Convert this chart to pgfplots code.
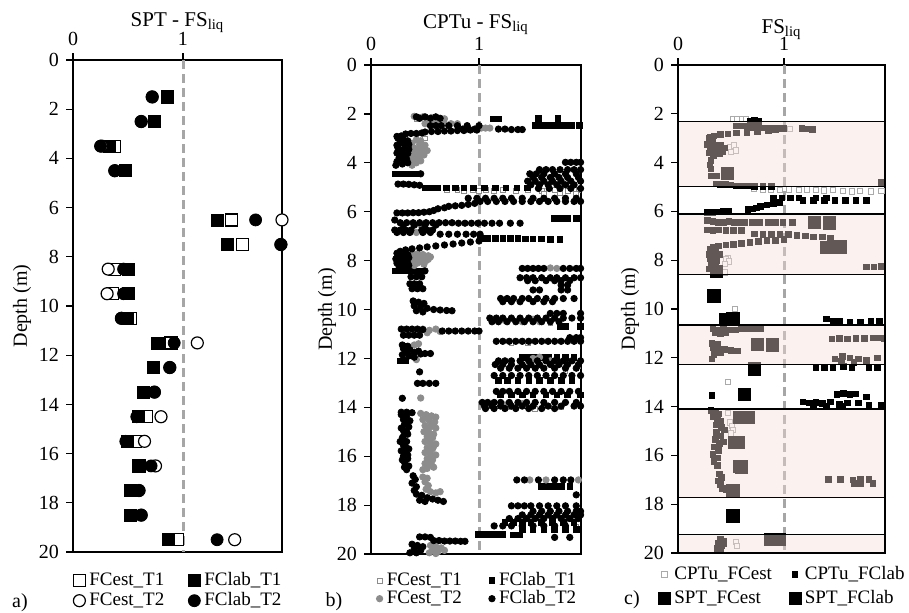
\documentclass[border=0pt]{standalone}
\usepackage{fontspec}
\setmainfont{Liberation Serif}
\usepackage{pgfplots}
\pgfplotsset{compat=1.18}
\definecolor{dashgray}{RGB}{166,166,166}
\definecolor{estgray}{RGB}{140,140,140}
\definecolor{ltgray}{RGB}{170,170,170}
\definecolor{band}{RGB}{245,223,217}

\pgfplotsset{
  fsl/.style={
    scale only axis, anchor=north west,
    xmin=0, ymin=0, ymax=20, y dir=reverse,
    xtick={0,1}, ytick={0,2,...,20},
    xtick pos=right, xticklabel pos=right, ytick pos=left,
    tick align=outside, major tick length=3.5pt,
    tick style={black, line width=0.6pt},
    axis line style={line width=0.7pt},
    font=\fontsize{10}{12}\selectfont,
    /pgf/number format/assume math mode=true,
    ylabel={Depth (m)},
    legend style={at={(0,0)}, anchor=north west, yshift=-6pt, xshift=-3pt,
      draw=none, fill=none, legend columns=2,
      font=\fontsize{9.5}{10}\selectfont,
      /tikz/every even column/.append style={column sep=10pt}},
    legend cell align=left,
    legend image code/.code={\draw[mark repeat=2,mark phase=2] plot coordinates {(0pt,0pt)(3pt,0pt)(6pt,0pt)};},
  },
  dashone/.style={forget plot, color=dashgray, line width=1.5pt, dash pattern=on 4.5pt off 2.5pt},
  bigopen/.style={only marks, mark size=3pt, mark options={draw=black, fill=white, line width=0.6pt}},
  bigfill/.style={only marks, mark size=3pt, mark options={draw=black, fill=black}},
  cband/.style={forget plot, fill=band, fill opacity=0.4, draw=black, draw opacity=1, line width=0.7pt},
}

\begin{document}
\begin{tikzpicture}
\useasboundingbox (0,0) rectangle (454.5pt,-306pt);

% ---------------- a) SPT
\begin{axis}[fsl, at={(36.5pt,-30pt)}, width=104.5pt, height=246pt, xmax=1.9,
  ylabel style={at={(0,0.5)}, anchor=center, yshift=25.5pt},
  legend style={row sep=-2pt}]
\addplot[dashone] coordinates {(1,0) (1,20)};
\addplot[bigopen, mark=square*] coordinates {
(0.86,1.5)(0.74,2.5)(0.38,3.5)(0.48,4.5)(1.44,6.5)(1.54,7.5)(0.38,8.5)(0.36,9.5)(0.52,10.5)
(0.89,11.5)(0.73,12.5)(0.64,13.5)(0.67,14.5)(0.57,15.5)(0.60,16.5)(0.52,17.5)(0.52,18.5)(0.95,19.5)};
\addplot[bigfill, mark=square*] coordinates {
(0.86,1.5)(0.74,2.5)(0.33,3.5)(0.48,4.5)(1.31,6.5)(1.40,7.5)(0.50,8.5)(0.50,9.5)(0.49,10.5)
(0.77,11.5)(0.73,12.5)(0.64,13.5)(0.59,14.5)(0.49,15.5)(0.59,16.5)(0.52,17.5)(0.52,18.5)(0.87,19.5)};
\addplot[bigopen, mark=*] coordinates {
(0.72,1.5)(0.62,2.5)(0.26,3.5)(0.38,4.5)(1.90,6.5)(1.89,7.5)(0.32,8.5)(0.31,9.5)(0.44,10.5)
(1.13,11.5)(0.88,12.5)(0.74,13.5)(0.80,14.5)(0.65,15.5)(0.75,16.5)(0.60,17.5)(0.62,18.5)(1.47,19.5)};
\addplot[bigfill, mark=*] coordinates {
(0.72,1.5)(0.62,2.5)(0.25,3.5)(0.38,4.5)(1.66,6.5)(1.89,7.5)(0.46,8.5)(0.46,9.5)(0.44,10.5)
(0.92,11.5)(0.88,12.5)(0.74,13.5)(0.58,14.5)(0.48,15.5)(0.71,16.5)(0.60,17.5)(0.62,18.5)(1.31,19.5)};
\legend{FCest\_T1, FClab\_T1, FCest\_T2, FClab\_T2}
\end{axis}

% ---------------- b) CPTu
\begin{axis}[fsl, at={(185.5pt,-32.5pt)}, width=105pt, height=244.5pt, xmax=1.944,
  ylabel style={at={(0,0.5)}, anchor=center, yshift=22pt},
  legend style={xshift=2.5pt, yshift=1pt, row sep=-3pt, /tikz/every even column/.append style={column sep=11.5pt}}]
\addplot[dashone] coordinates {(1,0) (1,20)};
% FCest_T1
\addplot[only marks, mark=square*, mark size=1.2pt, mark options={draw=estgray, fill=white, line width=0.4pt}] coordinates {
(0.42,2.2)(0.46,2.95)(0.50,3.0)
(0.70,5.12)(0.80,5.12)(0.86,5.15)(0.94,5.12)(1.00,5.15)(1.06,5.12)(1.14,5.15)(1.22,5.12)(1.34,5.15)(1.45,5.12)(1.58,5.15)(1.70,5.12)(1.82,5.15)(1.92,5.12)
(1.60,5.25)(1.75,5.25)(1.90,5.25)(1.66,10.55)(1.30,11.35)(1.45,11.35)(1.80,12.5)(1.92,12.3)
(1.28,14.0)(1.52,14.05)(1.76,14.0)(1.80,18.6)(1.90,18.9)};
% FClab_T1
\addplot[only marks, mark=square*, mark size=1.4pt, black] coordinates {
(1.13,2.2)(1.18,2.2)(1.55,2.18)(1.73,2.18)
(1.52,2.46)(1.57,2.46)(1.62,2.46)(1.68,2.46)(1.74,2.46)(1.80,2.46)(1.86,2.46)(1.93,2.46)
(0.22,4.45)(0.27,4.45)(0.32,4.45)(0.37,4.45)(0.42,4.45)
(0.50,5.02)(0.56,5.02)(0.62,5.02)(0.70,5.02)(0.78,5.02)(0.86,5.02)(0.95,5.02)(1.05,5.02)(1.15,5.02)(1.25,5.02)(1.35,5.02)(1.45,5.02)
(1.70,6.28)(1.76,6.28)(1.82,6.28)(1.90,6.28)
(1.01,7.08)(1.08,7.08)(1.15,7.08)(1.22,7.1)(1.29,7.1)(1.36,7.1)(1.43,7.12)(1.50,7.12)(1.58,7.12)(1.66,7.14)(1.75,7.14)
(0.22,8.42)(0.27,8.42)(0.32,8.42)(0.37,8.42)(0.42,8.42)(0.47,8.42)
(1.75,10.68)(1.80,10.68)(1.94,10.68)
(1.40,11.95)(1.46,11.95)(1.52,11.95)(1.58,11.95)(1.64,11.95)(1.72,11.95)(1.80,11.95)(1.88,11.95)
(0.27,12.1)(0.32,12.1)
(1.18,12.9)(1.26,12.9)(1.36,12.9)(1.46,12.9)(1.56,12.9)(1.66,12.9)(1.76,12.9)(1.86,12.9)
(1.20,13.5)(1.30,13.5)(1.40,13.5)(1.50,13.5)(1.62,13.5)(1.72,13.5)(1.82,13.5)(1.94,13.5)
(1.58,17.24)(1.64,17.24)(1.70,17.24)(1.76,17.24)(1.84,17.24)
(1.24,18.7)(1.32,18.7)(1.40,18.7)(1.48,18.7)(1.58,18.7)(1.68,18.7)(1.78,18.7)(1.88,18.7)
(1.40,19.0)(1.50,19.0)(1.60,19.0)(1.70,19.0)(1.80,19.0)(1.90,19.0)
(0.99,19.2)(1.04,19.2)(1.09,19.2)(1.14,19.2)(1.19,19.2)(1.22,19.2)(1.32,19.22)(1.38,19.22)};
% FCest_T2
\addplot[only marks, mark=*, mark size=1.6pt, estgray] coordinates {
(0.40,2.1)(0.44,2.15)(0.48,2.12)(0.52,2.18)(0.56,2.15)(0.60,2.2)(0.64,2.22)(0.68,2.2)
(0.50,2.4)(0.56,2.4)(0.62,2.4)(0.68,2.4)(0.74,2.4)(0.80,2.4)(1.02,2.58)(1.06,2.58)(1.10,2.58)
(0.42,3.05)(0.38,3.2)(0.45,3.25)(0.40,3.4)(0.48,3.4)(0.52,3.5)(0.42,3.55)(0.38,3.7)(0.45,3.75)(0.36,3.9)(0.42,4.0)(0.47,3.6)(0.38,4.1)
(0.46,3.1)(0.50,3.28)(0.44,3.45)(0.40,3.62)(0.49,3.68)(0.41,3.85)(0.46,3.92)
(0.42,6.85)(0.45,6.52)
(0.38,7.75)(0.43,7.72)(0.48,7.75)(0.53,7.8)(0.40,7.9)(0.46,7.95)(0.51,8.0)(0.38,8.05)(0.43,8.1)(0.49,8.15)(0.55,7.85)
(0.44,7.82)(0.50,7.9)(0.41,8.0)(0.47,8.05)(0.53,7.95)(0.40,8.2)
(1.66,8.3)(1.72,8.32)
(0.48,10.8)(0.54,10.85)(0.60,10.8)(0.64,10.9)(0.52,10.95)
(1.24,10.45)(1.40,10.5)(1.50,10.4)(1.56,10.5)
(0.40,11.45)(0.44,11.4)(0.42,12.05)(1.50,12.0)(1.56,11.95)(1.66,12.1)
(0.46,13.62)(1.24,13.9)(1.40,13.85)(1.60,13.95)
(0.46,14.25)(0.51,14.3)(0.56,14.35)(0.60,14.4)(0.48,14.5)(0.54,14.55)(0.59,14.6)(0.50,14.75)(0.55,14.8)(0.60,14.85)
(0.49,15.0)(0.54,15.05)(0.52,15.2)(0.57,15.25)(0.50,15.4)(0.55,15.45)(0.60,15.5)(0.52,15.65)(0.57,15.7)(0.50,15.85)
(0.55,15.9)(0.60,15.95)(0.52,16.1)(0.57,16.15)(0.50,16.3)(0.56,16.35)(0.52,16.5)(0.48,16.55)
(0.53,14.4)(0.57,14.68)(0.52,14.9)(0.58,15.1)(0.54,15.35)(0.58,15.6)(0.53,15.78)(0.57,16.02)(0.54,16.25)(0.58,16.45)
(0.48,16.85)(0.52,16.9)(0.50,17.05)(0.53,17.2)(0.51,17.35)(0.55,17.45)(0.60,17.5)(0.64,17.45)
(0.55,19.65)(0.60,19.7)(0.65,19.75)(0.57,19.85)(0.62,19.9)(0.68,19.85)(0.54,19.95)(0.60,19.98)
(1.47,16.97)(1.62,16.97)(1.92,16.97)};
% FClab_T2
\addplot[only marks, mark=*, mark size=1.6pt, black] coordinates {
(0.42,2.12)(0.50,2.12)(0.60,2.12)(0.45,2.18)(0.55,2.18)(0.64,2.18)
(0.55,2.48)(0.60,2.48)(0.65,2.48)(0.72,2.48)(0.80,2.48)(0.89,2.48)(1.00,2.48)
(0.85,2.62)(0.90,2.62)(0.96,2.62)(1.18,2.62)(1.24,2.62)(1.30,2.64)(1.36,2.64)(1.40,2.64)
(0.50,2.74)(0.56,2.72)(0.62,2.72)(0.68,2.7)(0.74,2.7)(0.80,2.68)(0.86,2.68)(0.92,2.66)(0.98,2.66)
(0.32,2.82)(0.37,2.8)(0.42,2.8)(0.47,2.78)(0.24,2.92)(0.28,2.9)
(0.25,3.0)(0.30,3.05)(0.34,3.1)(0.27,3.2)(0.32,3.3)(0.25,3.4)(0.29,3.5)(0.35,3.45)(0.24,3.6)(0.30,3.7)
(0.26,3.8)(0.33,3.85)(0.24,3.95)(0.29,4.05)(0.34,4.0)(0.23,4.1)
(0.29,3.15)(0.24,3.28)(0.31,3.4)(0.27,3.55)(0.34,3.62)(0.27,3.72)(0.31,3.92)(0.35,3.25)
(0.46,4.45)(0.25,4.87)(0.30,4.87)(0.35,4.88)(0.40,4.9)(0.45,4.92)
(1.80,3.98)(1.85,3.98)(1.90,3.98)(1.94,3.98)
(1.56,4.28)(1.62,4.28)(1.68,4.28)(1.75,4.28)(1.82,4.28)(1.88,4.28)(1.94,4.28)
(1.47,4.45)(1.53,4.45)(1.60,4.45)(1.70,4.45)(1.80,4.45)(1.90,4.45)
(1.50,4.6)(1.58,4.6)(1.66,4.6)(1.74,4.6)(1.82,4.6)(1.92,4.6)
(1.45,4.75)(1.52,4.75)(1.60,4.75)(1.68,4.75)(1.76,4.75)(1.85,4.75)(1.94,4.75)
(1.48,4.9)(1.56,4.9)(1.64,4.9)(1.72,4.9)(1.80,4.9)(1.88,4.9)
(1.55,5.05)(1.65,5.05)(1.75,5.05)(1.85,5.05)(1.94,5.05)
(0.90,5.45)(0.98,5.45)(1.06,5.45)(1.14,5.45)(1.22,5.45)(1.30,5.45)(1.40,5.45)(1.50,5.45)(1.60,5.45)(1.70,5.45)(1.80,5.45)(1.90,5.45)
(1.01,5.58)(1.08,5.58)(1.16,5.58)(1.24,5.58)(1.32,5.58)(1.40,5.58)(1.48,5.58)(1.56,5.58)(1.64,5.58)(1.72,5.58)(1.80,5.58)(1.88,5.58)(1.94,5.58)
(0.72,5.78)(0.78,5.76)(0.84,5.74)(0.90,5.7)(0.96,5.66)(0.62,5.88)(0.68,5.84)
(0.24,6.05)(0.29,6.05)(0.34,6.05)(0.39,6.04)(0.44,6.04)(0.49,6.02)(0.54,6.0)(0.58,5.95)
(0.22,6.34)
(0.27,6.45)(0.33,6.45)(0.39,6.45)(0.45,6.45)(0.51,6.45)(0.57,6.45)(0.63,6.45)(0.69,6.45)(0.75,6.45)
(0.81,6.47)(0.87,6.47)(0.93,6.47)(0.99,6.47)(1.05,6.47)(1.12,6.47)(1.19,6.47)(1.29,6.47)(1.38,6.47)
(0.30,6.55)(0.40,6.55)(0.50,6.55)(0.60,6.55)
(0.22,6.75)(0.27,6.75)(0.32,6.75)(0.37,6.75)(0.47,6.75)(0.52,6.75)(0.57,6.75)
(0.24,6.85)(0.30,6.85)(0.36,6.85)(0.48,6.85)(0.55,6.85)
(0.64,6.92)(0.72,6.92)(0.80,6.92)(0.88,6.92)(0.95,6.92)(1.01,6.92)
(1.00,7.2)(0.92,7.24)(0.84,7.28)(0.76,7.32)(0.68,7.36)(0.60,7.4)(0.52,7.44)(0.45,7.48)(0.38,7.52)(0.32,7.56)(0.27,7.62)
(0.24,7.7)(0.29,7.7)(0.34,7.75)(0.25,7.85)(0.31,7.9)(0.26,8.0)(0.33,8.0)(0.24,8.1)(0.29,8.15)(0.35,8.2)(0.26,8.25)
(0.28,7.8)(0.35,7.88)(0.23,7.93)(0.29,8.05)(0.34,8.1)(0.31,8.25)
(0.50,8.42)(0.37,8.66)(0.42,8.66)(0.47,8.66)(0.36,8.95)(0.40,8.95)(0.45,8.95)(0.38,9.15)(0.43,9.15)(0.48,9.15)
(0.39,9.65)(0.44,9.7)(0.49,9.75)(0.40,9.85)(0.46,9.9)(0.52,9.95)(0.58,10.0)(0.64,10.02)(0.70,10.04)(0.75,10.05)(0.42,10.05)(0.48,10.1)
(0.28,10.8)(0.33,10.8)(0.38,10.8)(0.43,10.8)(0.48,10.82)
(0.66,10.88)(0.72,10.88)(0.78,10.88)(0.84,10.88)(0.90,10.88)(0.96,10.88)(1.00,10.88)
(0.30,11.05)(0.35,11.05)(0.40,11.05)(0.45,11.05)
(0.29,11.45)(0.34,11.5)(0.30,11.6)(0.36,11.65)(0.44,11.7)(0.50,11.8)(0.55,11.8)(0.29,11.85)(0.35,11.9)(0.40,11.95)(0.30,12.05)
(0.33,11.75)(0.40,11.75)(0.46,11.82)(0.32,11.52)
(0.45,12.55)(0.43,13.02)(0.48,13.02)(0.54,13.02)(0.60,13.02)(0.29,13.63)
(0.28,14.2)(0.33,14.2)(0.38,14.22)
(1.40,8.32)(1.45,8.32)(1.50,8.32)(1.55,8.32)(1.60,8.32)(1.78,8.32)(1.84,8.32)(1.90,8.32)(1.94,8.32)
(1.38,8.7)(1.44,8.7)(1.50,8.7)(1.58,8.7)(1.66,8.7)(1.72,8.7)(1.80,8.7)(1.88,8.7)(1.94,8.7)
(1.45,8.82)(1.52,8.82)(1.62,8.82)(1.70,8.82)(1.76,8.82)(1.84,8.82)
(1.76,9.0)(1.82,9.0)(1.50,9.2)(1.56,9.2)(1.76,9.2)(1.82,9.2)
(1.20,9.55)(1.26,9.55)(1.32,9.55)(1.40,9.55)(1.46,9.55)(1.54,9.55)(1.62,9.55)(1.70,9.55)(1.78,9.55)(1.88,9.55)
(1.22,9.68)(1.30,9.68)(1.38,9.68)(1.50,9.68)(1.60,9.68)(1.68,9.68)
(1.66,10.16)(1.72,10.16)(1.78,10.16)(1.94,10.16)
(1.10,10.35)(1.16,10.35)(1.22,10.35)(1.30,10.35)(1.38,10.35)(1.46,10.35)(1.54,10.35)(1.62,10.35)(1.70,10.35)(1.78,10.35)(1.86,10.35)(1.94,10.35)
(1.12,10.5)(1.18,10.5)(1.26,10.5)(1.34,10.5)(1.42,10.5)(1.50,10.5)(1.58,10.5)(1.66,10.5)(1.74,10.5)
(1.84,11.15)(1.90,11.15)(1.94,11.15)
(1.16,11.3)(1.22,11.3)(1.28,11.3)(1.34,11.3)(1.40,11.3)(1.46,11.3)(1.52,11.3)(1.58,11.3)(1.64,11.3)(1.70,11.3)(1.76,11.3)(1.82,11.3)(1.88,11.3)(1.94,11.3)
(1.18,12.1)(1.24,12.1)(1.30,12.1)(1.38,12.1)(1.46,12.1)(1.54,12.1)(1.62,12.1)(1.70,12.1)(1.78,12.1)(1.86,12.1)(1.94,12.1)
(1.15,12.25)(1.22,12.25)(1.30,12.25)(1.40,12.25)(1.48,12.25)(1.56,12.25)(1.66,12.25)(1.74,12.25)(1.82,12.25)(1.92,12.25)
(1.20,12.4)(1.28,12.4)(1.36,12.4)(1.44,12.4)(1.52,12.4)(1.60,12.4)(1.70,12.4)(1.80,12.4)(1.90,12.4)
(1.14,12.7)(1.22,12.7)(1.30,12.7)(1.38,12.7)(1.46,12.7)(1.54,12.7)(1.62,12.7)(1.70,12.7)(1.78,12.7)(1.86,12.7)(1.94,12.7)
(1.16,13.35)(1.22,13.35)(1.28,13.35)(1.36,13.35)(1.44,13.35)(1.52,13.35)(1.60,13.35)(1.68,13.35)(1.76,13.35)(1.84,13.35)(1.92,13.35)
(1.03,13.8)(1.08,13.8)(1.14,13.8)(1.20,13.8)(1.28,13.8)(1.36,13.8)(1.44,13.8)(1.52,13.8)(1.60,13.8)(1.70,13.8)(1.80,13.8)(1.90,13.8)
(1.05,13.95)(1.12,13.95)(1.20,13.95)(1.30,13.95)(1.40,13.95)(1.50,13.95)(1.64,13.95)(1.76,13.95)(1.88,13.95)(1.94,13.95)
(1.06,14.05)(1.14,14.05)(1.24,14.05)(1.34,14.05)(1.46,14.05)(1.58,14.05)(1.70,14.05)
(0.28,14.3)(0.33,14.35)(0.30,14.5)(0.36,14.55)(0.31,14.7)(0.35,14.8)(0.30,14.95)(0.34,15.1)(0.29,15.25)(0.33,15.4)
(0.30,15.55)(0.35,15.7)(0.32,15.85)(0.30,16.0)(0.34,16.1)(0.31,16.25)(0.35,16.4)(0.33,16.55)
(0.33,14.62)(0.28,14.85)(0.33,15.0)(0.30,15.18)(0.27,15.4)(0.32,15.62)(0.28,15.78)(0.34,15.95)(0.29,16.15)(0.31,16.45)
(0.39,16.8)(0.41,16.95)(0.38,17.1)(0.42,17.25)(0.40,17.4)
(0.42,17.55)(0.47,17.6)(0.52,17.7)(0.57,17.75)(0.62,17.8)(0.67,17.85)(0.45,17.8)(0.50,17.85)
(0.45,19.3)(0.50,19.3)(0.55,19.32)(0.58,19.45)(0.63,19.45)(0.68,19.47)(0.73,19.47)(0.78,19.47)(0.83,19.48)(0.87,19.48)
(0.38,19.6)(0.43,19.65)(0.48,19.7)(0.40,19.8)(0.46,19.85)(0.36,19.95)(0.42,19.95)
(1.35,16.97)(1.42,16.97)(1.55,16.97)(1.70,16.97)(1.78,16.97)(1.85,16.97)(1.90,17.58)
(1.30,18.03)(1.36,18.03)(1.42,18.03)(1.48,18.03)(1.56,18.03)(1.64,18.03)(1.72,18.03)(1.80,18.03)(1.90,18.03)
(1.50,18.25)(1.58,18.25)(1.66,18.25)(1.74,18.25)(1.82,18.25)(1.90,18.25)(1.94,18.25)
(1.40,18.4)(1.48,18.4)(1.56,18.4)(1.64,18.4)(1.72,18.4)(1.80,18.4)(1.88,18.4)(1.94,18.4)
(1.28,18.55)(1.36,18.55)(1.44,18.55)(1.52,18.55)(1.60,18.55)(1.68,18.55)(1.76,18.55)(1.84,18.55)(1.92,18.55)
(1.14,18.85)(1.22,18.85)(1.30,18.85)(1.40,18.85)(1.50,18.85)(1.60,18.85)(1.70,18.85)(1.80,18.85)
(1.70,19.32)(1.84,19.32)};
\legend{FCest\_T1, FClab\_T1, FCest\_T2, FClab\_T2}
\end{axis}

% ---------------- c) FS_liq combined
\begin{axis}[fsl, at={(339pt,-32.5pt)}, width=103.5pt, height=244pt, xmax=1.953,
  clip marker paths=true,
  ylabel style={at={(0,0.5)}, anchor=center, yshift=24pt},
  legend style={xshift=-10pt, yshift=3.5pt, /tikz/every even column/.append style={column sep=6.5pt}}]
\addplot[dashone] coordinates {(1,0) (1,20)};
% CPTu_FCest
\addplot[only marks, mark=square*, mark size=1.3pt, mark options={draw=ltgray, fill=white, line width=0.5pt}] coordinates {
(0.52,2.2)(0.56,2.2)(0.60,2.2)(0.64,2.2)(1.06,2.62)
(0.49,3.35)(0.53,3.3)(0.50,3.55)(0.55,3.5)
(0.72,5.08)(0.80,5.12)(0.88,5.1)(0.96,5.12)(1.05,5.1)(1.14,5.12)(1.22,5.1)(1.30,5.12)(1.38,5.14)(1.46,5.12)
(1.56,5.15)(1.64,5.18)(1.72,5.15)(1.82,5.18)(1.92,5.15)
(0.47,7.9)(0.45,7.95)(0.48,8.05)(0.44,8.15)(0.44,8.5)(0.54,10.0)(0.47,13.0)(0.47,14.25)
(0.49,14.65)(0.51,14.8)(0.52,14.95)(0.50,15.1)(0.55,19.55)(0.56,19.7)};
% CPTu_FClab
\addplot[only marks, mark=square*, mark size=1.4pt, black] coordinates {
(0.68,2.3)(0.72,2.28)(0.76,2.32)
(0.55,2.5)(0.60,2.5)(0.65,2.52)(0.70,2.55)(0.75,2.55)(0.80,2.58)(0.85,2.58)(0.90,2.6)(0.95,2.6)(1.00,2.6)
(1.17,2.6)(1.22,2.62)(1.27,2.63)
(0.92,2.65)(0.85,2.68)(0.75,2.72)(0.65,2.75)(0.55,2.78)(0.47,2.82)(0.40,2.85)(0.34,2.9)(0.30,2.95)
(0.29,3.0)(0.33,3.1)(0.28,3.25)(0.35,3.3)(0.40,3.3)(0.44,3.4)(0.30,3.45)(0.36,3.5)(0.42,3.55)(0.29,3.6)(0.34,3.7)
(0.31,3.9)(0.30,4.1)(0.31,4.25)(0.31,4.55)(0.36,4.55)
(0.36,4.88)(0.40,4.9)(0.45,4.9)(0.50,4.92)(0.55,4.95)(0.60,4.95)(0.66,4.96)(0.72,4.97)(0.80,4.97)(0.88,4.98)(1.92,4.8)
(0.90,5.45)(0.98,5.45)(1.06,5.45)(1.14,5.45)(1.30,5.45)(1.40,5.45)
(1.18,5.55)(1.28,5.55)(1.38,5.55)(1.48,5.55)(1.58,5.55)(1.68,5.55)(1.78,5.55)
(0.96,5.62)(0.90,5.68)(0.84,5.74)(0.78,5.8)(0.74,5.86)(0.70,5.9)(0.66,5.92)
(0.28,6.03)(0.33,6.03)(0.38,6.02)(0.43,6.0)(0.48,6.0)
(0.28,6.38)(0.33,6.42)(0.38,6.45)(0.43,6.45)(0.48,6.42)(0.53,6.45)(0.58,6.45)(0.63,6.45)(0.70,6.45)
(0.77,6.45)(0.85,6.45)(0.92,6.45)(0.99,6.45)(1.08,6.45)
(0.28,6.75)(0.33,6.78)(0.38,6.75)(0.45,6.78)(0.52,6.78)(0.60,6.78)
(0.72,6.92)(0.80,6.95)(0.88,6.95)(0.96,6.95)(1.04,6.95)(1.12,6.98)(1.20,7.0)(1.28,7.05)(1.36,7.05)(1.44,7.08)
(1.00,7.15)(0.92,7.18)(0.84,7.2)(0.76,7.22)(0.68,7.26)(0.60,7.3)(0.52,7.34)(0.45,7.38)(0.38,7.42)(0.33,7.48)
(0.30,7.55)(0.35,7.6)(0.29,7.75)(0.34,7.8)(0.39,7.75)(0.30,7.95)(0.36,8.0)(0.31,8.15)(0.35,8.2)(0.29,8.35)(0.34,8.45)
(1.78,8.28)(1.85,8.28)(1.92,8.25)
(1.40,10.4)(1.46,10.48)(1.52,10.5)(1.62,10.52)(1.72,10.52)(1.82,10.5)(1.90,10.48)
(0.33,10.8)(0.38,10.85)(0.43,10.82)(0.48,10.85)(0.54,10.85)(0.60,10.82)(0.66,10.82)(0.72,10.8)(0.78,10.8)
(0.35,10.95)(0.40,11.0)(0.45,10.98)
(1.45,11.22)(1.52,11.2)(1.60,11.22)(1.68,11.2)(1.76,11.2)(1.84,11.18)(1.90,11.18)(1.95,11.2)
(0.32,11.4)(0.37,11.45)(0.33,11.6)(0.38,11.65)(0.44,11.65)(0.50,11.7)(0.56,11.72)(0.34,11.85)(0.40,11.8)(0.32,12.05)
(1.48,12.05)(1.55,11.95)(1.62,12.0)(1.70,12.05)(1.78,12.1)(1.88,12.0)(1.54,12.15)(1.66,12.2)
(1.30,12.4)(1.38,12.42)(1.46,12.4)(1.56,12.35)(1.64,12.42)(1.80,12.4)(1.88,12.4)
(0.32,13.55)
(1.50,13.5)(1.56,13.45)(1.62,13.5)(1.68,13.48)(1.78,13.6)(1.18,13.8)(1.24,13.85)(1.30,13.82)(1.36,13.88)(1.44,13.8)
(1.52,13.9)(1.60,13.85)(1.70,13.85)(1.80,13.95)(1.92,13.95)(1.28,14.0)(1.40,14.0)(1.55,14.0)
(0.31,14.15)(0.35,14.2)(0.38,14.3)(0.33,14.4)(0.37,14.5)(0.40,14.6)(0.36,14.75)(0.41,14.85)(0.44,14.95)(0.36,15.05)
(0.40,15.2)(0.35,15.35)(0.39,15.5)(0.43,15.45)(0.34,15.65)(0.38,15.8)(0.33,15.95)(0.37,16.1)(0.34,16.25)(0.37,16.4)
(0.39,16.75)(0.41,16.9)(0.38,17.05)(0.40,17.2)(0.42,17.35)(0.45,17.4)
(1.42,16.98)(1.53,16.98)(1.65,17.0)(1.72,16.98)(1.80,16.98)(1.66,17.15)(1.72,17.15)(1.84,17.15)
(0.40,19.45)(0.43,19.5)(0.38,19.6)(0.41,19.7)(0.37,19.8)(0.40,19.9)(0.43,19.6)(0.38,19.97)};
% SPT_FCest
\addplot[bigopen, mark=square*, mark options={line width=0.8pt}] coordinates {
(1.43,6.47)(1.53,7.47)(0.365,8.47)(0.34,9.47)(0.52,10.42)(0.89,11.47)(0.72,12.47)
(0.66,14.45)(0.57,15.47)(0.60,16.47)(0.52,17.45)(0.52,18.48)(0.95,19.45)};
% SPT_FClab
\addplot[bigfill, mark=square*] coordinates {
(0.36,3.5)(0.47,4.45)(1.29,6.47)(1.40,7.47)(0.45,10.42)(0.75,11.47)(0.63,13.48)
(0.58,14.45)(0.53,15.47)(0.58,16.47)(0.87,19.45)};
% bands
\addplot[cband] coordinates {(0,2.32)(1.953,2.32)(1.953,4.99)(0,4.99)} -- cycle;
\addplot[cband] coordinates {(0,6.1)(1.953,6.1)(1.953,8.58)(0,8.58)} -- cycle;
\addplot[cband] coordinates {(0,10.66)(1.953,10.66)(1.953,12.27)(0,12.27)} -- cycle;
\addplot[cband] coordinates {(0,14.1)(1.953,14.1)(1.953,17.73)(0,17.73)} -- cycle;
\addplot[cband] coordinates {(0,19.23)(1.953,19.23)(1.953,20)(0,20)} -- cycle;
\legend{CPTu\_FCest, CPTu\_FClab, SPT\_FCest, SPT\_FClab}
\end{axis}

% titles and panel letters
\node[font=\fontsize{10.5}{12}\selectfont, anchor=base] at (88.75pt,-13pt) {SPT - FS\textsubscript{liq}};
\node[font=\fontsize{10.5}{12}\selectfont, anchor=base] at (238pt,-14pt) {CPTu - FS\textsubscript{liq}};
\node[font=\fontsize{10.5}{12}\selectfont, anchor=base] at (390.75pt,-16.5pt) {FS\textsubscript{liq}};
\node[font=\fontsize{10}{12}\selectfont] at (10pt,-301.5pt) {a)};
\node[font=\fontsize{10}{12}\selectfont] at (167pt,-301pt) {b)};
\node[font=\fontsize{10}{12}\selectfont] at (316pt,-300pt) {c)};
\end{tikzpicture}
\end{document}
